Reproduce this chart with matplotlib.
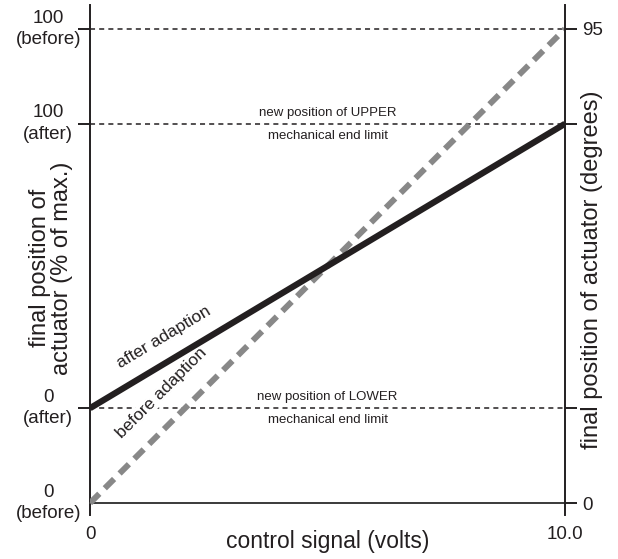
import numpy as np
import matplotlib
matplotlib.use('Agg')
import matplotlib.pyplot as plt

plt.rcParams['font.family'] = ['Liberation Sans', 'DejaVu Sans']

# ---- data ----
volts = [0, 10]
before_deg = [0, 95]
after_deg = [19, 76]

left_ticks = [95, 76, 19]
left_labels = ['100\n(before)', '100\n(after)', '0\n(after)']
left_minor_ticks = [0]
left_minor_labels = ['0\n(before)']

right_ticks = [95, 76, 19, 0]
right_labels = ['95', '', '', '0']

x_ticks = [0, 10]
x_labels = ['0', '10.0']

limit_levels = [95, 76, 19]
limit_above = ['new position of UPPER', 'new position of LOWER']
limit_below = ['mechanical end limit', 'mechanical end limit']
limit_text_levels = [76, 19]

INK = '#231f20'
GRAY = '#888888'

fig = plt.figure(figsize=(6.18, 5.59), dpi=100)
ax = fig.add_axes([90/618, 44/559, 475/618, 510/559])
ax.set_xlim(0, 10)
ax.set_ylim(-2.4, 99.8)

for s in ['top', 'right']:
    ax.spines[s].set_visible(False)
ax.spines['left'].set_linewidth(1.4)
ax.spines['left'].set_color(INK)
ax.spines['bottom'].set_position(('data', 0))
ax.spines['bottom'].set_linewidth(1.4)
ax.spines['bottom'].set_color('#3a3a3a')

# reference (end limit) dotted lines
for lvl in limit_levels:
    ax.axhline(lvl, color=INK, lw=1.1, dashes=(3.3, 2.7), zorder=1)

# curves
ax.plot(volts, before_deg, color=GRAY, lw=4.3, dashes=(2.2, 1.3),
        dash_capstyle='butt', solid_capstyle='butt', zorder=3)
ax.plot(volts, after_deg, color=INK, lw=4.5, solid_capstyle='butt', zorder=4)

# line labels
ang_after = np.degrees(np.arctan2(after_deg[1] - after_deg[0], volts[1] - volts[0]))
ang_before = np.degrees(np.arctan2(before_deg[1] - before_deg[0], volts[1] - volts[0]))
ax.text(1.55, 33.3, 'after adaption', rotation=ang_after, transform_rotates_text=True,
        rotation_mode='anchor', ha='center', va='center', fontsize=12.5, color=INK, zorder=5)
ax.text(1.5, 22.0, 'before adaption', rotation=ang_before, transform_rotates_text=True,
        rotation_mode='anchor', ha='center', va='center', fontsize=12.5, color=INK, zorder=2,
        bbox=dict(facecolor='white', edgecolor='none', pad=0.5))

# end-limit annotations
for above, below, lvl in zip(limit_above, limit_below, limit_text_levels):
    ax.annotate(above, xy=(5, lvl), xytext=(0, 8), textcoords='offset points',
                ha='center', va='center', fontsize=9.5, color=INK)
    ax.annotate(below, xy=(5, lvl), xytext=(0, -8.5), textcoords='offset points',
                ha='center', va='center', fontsize=9.5, color=INK)

# left ticks
ax.set_yticks(left_ticks, left_labels)
ax.set_yticks(left_minor_ticks, left_minor_labels, minor=True)
ax.tick_params(axis='y', which='major', length=8.5, width=1.4, pad=21.5,
               labelsize=13.5, colors=INK, direction='out')
ax.tick_params(axis='y', which='minor', length=0, pad=30, labelsize=13.5,
               colors=INK)
for lbl in ax.get_yticklabels(which='both'):
    lbl.set_ha('center')
    lbl.set_va('center')
    lbl.set_multialignment('center')
    lbl.set_linespacing(1.35)

# x ticks
ax.set_xticks(x_ticks, x_labels)
ax.tick_params(axis='x', length=0, pad=16.5, labelsize=13.5, colors=INK)

# right axis
ax2 = ax.twinx()
ax2.set_ylim(ax.get_ylim())
for s in ['top', 'left', 'bottom']:
    ax2.spines[s].set_visible(False)
ax2.spines['right'].set_linewidth(1.4)
ax2.spines['right'].set_color(INK)
ax2.set_yticks(right_ticks, right_labels)
ax2.tick_params(axis='y', length=8.5, width=1.4, pad=4, labelsize=13.5,
                colors=INK, direction='out')

# axis titles
ax.text(0.5, -0.051, 'control signal (volts)', transform=ax.transAxes,
        ha='center', va='center', fontsize=16.5, color=INK)
ax.text(-0.083, 0.484, 'final position of\nactuator (% of max.)', transform=ax.transAxes,
        rotation=90, ha='center', va='center', fontsize=17, linespacing=1.0, color=INK)
ax.text(1.057, 0.480, 'final position of actuator (degrees)', transform=ax.transAxes,
        rotation=90, ha='center', va='center', fontsize=17, color=INK)

fig.savefig('out.png', dpi=100)
